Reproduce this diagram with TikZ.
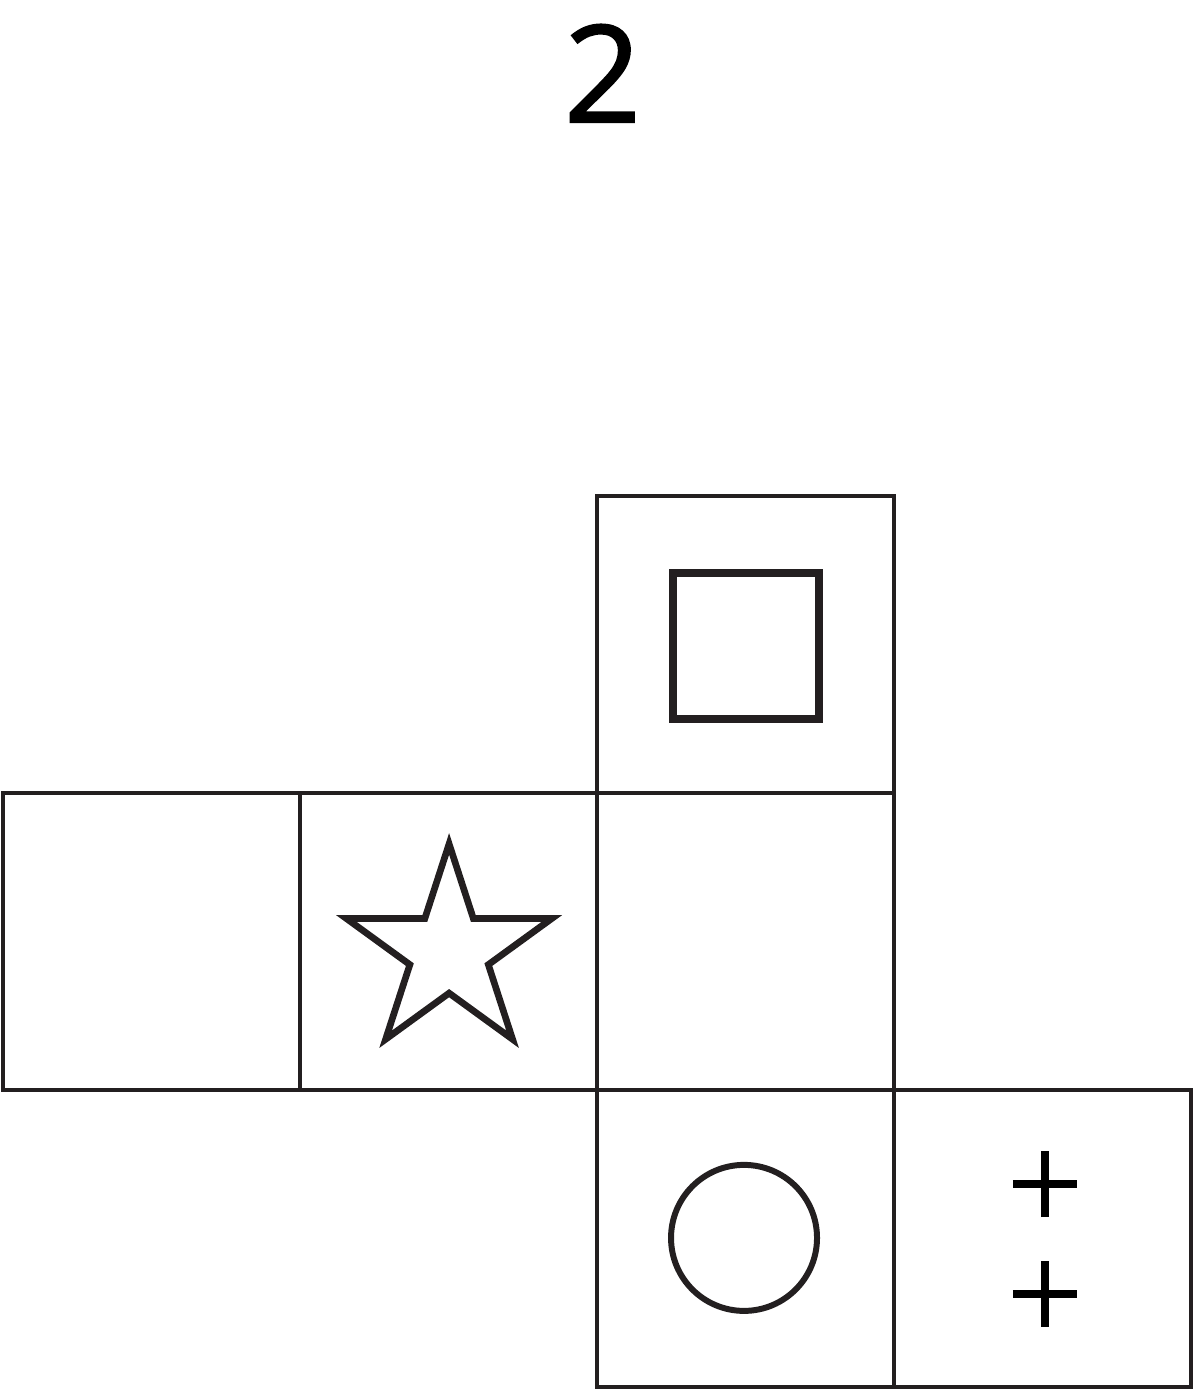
\documentclass[tikz,border=0pt]{standalone}
\usepackage{fontspec}
\setmainfont{Open Sans}
\newfontfamily\numfont[FakeBold=1.3]{Open Sans}
\usetikzlibrary{shapes.geometric}
\definecolor{ink}{RGB}{35,31,32}
\tikzset{
  cell/.style={draw=ink, line width=1.15pt, minimum size=2.97cm, inner sep=0pt},
  mark box/.style={draw=ink, line width=2.3pt, minimum size=1.46cm, inner sep=0pt},
  mark ring/.style={circle, draw=ink, line width=1.7pt, minimum size=1.46cm, inner sep=0pt},
  mark star/.style={star, star points=5, star point ratio=2.618, draw=ink, line width=1.9pt,
    minimum size=2.16cm, inner sep=0pt, miter limit=10},
  plus sign/.style={draw=black, line width=2.3pt}
}
\begin{document}
\begin{tikzpicture}[x=2.97cm, y=2.97cm]
  \useasboundingbox (-0.0101, -0.0101) rectangle (4.0101, 4.6700);
  % number of the net
  \node[inner sep=0pt, font=\numfont\fontsize{38.5}{40}\selectfont] (num) at (2.019, 4.423) {2};
  % the six faces
  \node[cell] (top) at (2.5, 2.5) {};
  \node[cell] (left) at (0.5, 1.5) {};
  \node[cell] (midl) at (1.5, 1.5) {};
  \node[cell] (mid) at (2.5, 1.5) {};
  \node[cell] (low) at (2.5, 0.5) {};
  \node[cell] (right) at (3.5, 0.5) {};
  % symbols on the faces
  \node[mark box] (sq) at (2.502, 2.495) {};
  \node[mark star] (st) at (1.502, 1.465) {};
  \node[mark ring] (ring) at (2.495, 0.502) {};
  \foreach \y in {0.683, 0.313} {
    \draw[plus sign] (3.400, \y) -- (3.616, \y);
    \draw[plus sign] (3.508, \y-0.111) -- (3.508, \y+0.111);
  }
\end{tikzpicture}
\end{document}
